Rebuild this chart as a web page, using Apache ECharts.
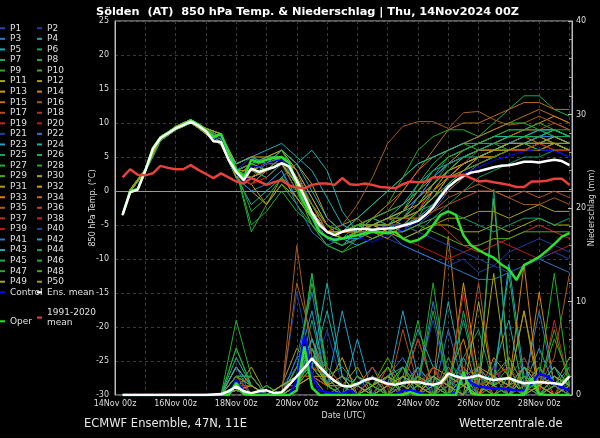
<!DOCTYPE html>
<html>
<head>
<meta charset="utf-8">
<title>Sölden 850 hPa Temp. & Niederschlag</title>
<script src="https://cdn.jsdelivr.net/npm/echarts@6.0.0/dist/echarts.min.js"></script>
<style>
  html, body { margin: 0; padding: 0; background: #000; }
  #chart { width: 600px; height: 438px; }
</style>
</head>
<body>
<div id="chart"></div>
<script>
// x positions in hours after 14Nov 00z
const mainHours = [6,12,18,24,30,36,42,48,54,60,66,72,78,84,90,96,102,108,114,120,
  126,132,138,144,150,156,162,168,174,180,186,192,198,204,210,216,222,228,234,240,
  246,252,258,264,270,276,282,288,294,300,306,312,318,324,330,336,342,348,354,360]
const memberHours = [6,12,24,36,48,60,72,84,96,108,120,132,144,156,168,180,192,204,216,228,
  240,252,264,276,288,300,312,324,336,348,360]
const dayLabels = ['14Nov 00z','16Nov 00z','18Nov 00z','20Nov 00z','22Nov 00z','24Nov 00z','26Nov 00z','28Nov 00z']

// 850 hPa temperature (°C), 6-hourly
const ensMeanTemp = [-3.5,-0.2,0.2,3.0,6.2,7.8,8.5,9.2,9.7,10.2,9.6,8.8,7.3,7.2,4.6,2.8,1.6,3.3,2.8,3.2,
  3.5,4.1,3.6,1.5,-0.8,-3.2,-5.0,-6.0,-6.5,-6.0,-5.7,-5.6,-5.6,-5.7,-5.6,-5.5,-5.4,-5.1,-4.8,-4.4,
  -3.5,-2.4,-0.8,0.6,1.5,2.2,2.7,2.9,3.2,3.5,3.7,3.8,4.0,4.3,4.3,4.2,4.4,4.6,4.4,3.8]
const operTemp = [-3.5,0.0,0.3,3.0,6.3,7.9,8.6,9.3,9.8,10.4,9.8,8.9,7.9,8.4,5.6,3.2,2.0,4.6,4.2,4.6,
  4.9,5.0,4.2,0.8,-1.8,-3.8,-6.0,-6.8,-7.2,-7.0,-6.7,-6.5,-6.2,-6.0,-6.1,-6.2,-6.0,-7.0,-7.5,-7.2,
  -6.5,-5.0,-3.5,-3.0,-3.5,-6.5,-8.0,-8.7,-9.3,-9.8,-10.8,-11.5,-13.1,-10.9,-10.3,-9.7,-8.8,-7.8,-6.7,-6.2]
const controlTemp = [-3.5,0.0,0.3,3.0,6.2,7.8,8.6,9.3,9.8,10.3,9.7,8.8,7.6,8.0,5.0,2.6,1.0,3.8,3.5,4.0,
  4.4,4.6,3.8,1.0,-1.5,-4.0,-6.2,-7.0,-7.4,-7.0,-6.5,-6.8,-7.2,-7.5,-7.0,-6.5,-6.0,-5.8,-5.2,-4.5,
  -3.8,-2.5,-1.0,0.5,1.5,2.5,3.0,3.5,4.0,4.5,4.8,5.2,5.5,5.8,6.0,6.2,6.0,5.8,5.5,5.0]
const climTemp = [2.0,3.2,2.4,2.3,2.6,3.7,3.4,3.2,3.2,3.8,3.1,2.5,1.9,2.6,2.0,1.4,1.1,1.9,1.4,0.9,
  1.3,1.6,0.8,0.5,0.4,0.9,1.1,1.1,0.9,1.9,1.0,0.9,1.1,0.9,0.6,0.5,0.4,1.0,1.4,1.3,
  1.4,2.0,2.1,2.1,2.2,2.4,1.9,1.4,1.5,1.3,1.1,0.9,0.6,0.6,1.4,1.4,1.5,1.8,1.8,0.9]

// precipitation (mm / 6 h)
const ensMeanPrecip = [0,0,0,0,0,0,0,0,0,0,0,0,0.05,0.1,0.4,0.9,0.4,0.2,0.4,0.5,
  0.2,0.3,1.1,2.0,2.9,3.9,3.0,2.2,1.5,1.0,0.9,1.2,1.6,1.8,1.5,1.2,1.1,1.3,1.4,1.4,
  1.2,1.1,1.3,2.3,2.0,1.8,1.9,2.1,1.8,1.6,1.7,1.8,1.5,1.25,1.3,1.4,1.3,1.25,1.1,2.0]
const operPrecip = [0,0,0,0,0,0,0,0,0,0,0,0,0,0,0,1.3,0.1,0,0,0,
  0,0,0,0.5,5.2,0.8,0,0,0,0,0,0,0,0,0,0,0,0,0.3,0,
  0,0,0,0,0,2.5,0.2,0,0,0,0,0,0,0,1.8,0.1,0,0,0,0]
const controlPrecip = [0,0,0,0,0,0,0,0,0,0,0,0,0,0,0,1.6,0.3,0,0.2,0,
  0,0,0,1.5,6.4,2.0,0.5,0.3,0.2,0.1,0.5,0,0,0,0,0,0,0.5,0.5,0.3,
  0,0,0,0,0.3,2.5,1.3,0.9,0.8,0.7,0.7,0.6,0.5,0.5,1.2,2.3,2.0,1.3,0.8,0.5]

// ensemble members P1..P50, temperature at memberHours
const memberTemp = [
  [-3.5,0,3,7.6,9.2,10.2,8.8,7.6,3,4,3,5,2,-3,-6,-7,-7,-6,-5,-5,-4,-2,1,3,4,5,6,7,6,6,5],
  [-3.4,0.1,3.1,7.9,9.4,10.4,9,8,2,1,3,4,0,-5,-7,-6,-5,-6,-7,-8,-9,-10,-11,-10,-12,-11,-9,-8,-7,-8,-9],
  [-3.6,-0.1,2.9,7.4,9,10,8.6,7.2,4,5,4,6,3,-1,-5,-6,-5,-4,-5,-6,-5,-3,0,2,4,5,6,6,7,8,7],
  [-3.5,0,3,7.8,9.5,10.5,9.2,8.4,3,2,1,3,-1,-4,-6,-7,-8,-7,-6,-4,-1,2,4,5,6,6,7,8,8,9,8],
  [-3.5,0.2,3.2,8,9.3,10.1,8.4,6.8,2,-2,0,2,4,6,3,-3,-6,-4,-3,-2,1,3,4,5,5,6,7,7,8,8,7],
  [-3.5,0,3,7.6,9.2,10.2,8.8,7.6,3,3,4,5,1,-4,-7,-8,-6,-5,-6,-7,-6,-4,-2,0,2,3,4,5,5,6,6],
  [-3.4,0.1,3.1,7.9,9.4,10.4,9,8,2,4,3,4,1,-3,-6,-7,-5,-4,-5,-3,1,4,6,7,8,10,12,14,14,12,11],
  [-3.6,-0.1,2.9,7.4,9,10,8.6,7.2,3,-6,-2,1,-2,-5,-8,-9,-7,-6,-5,-6,-4,0,3,5,6,7,6,7,8,7,7],
  [-3.5,0,3,7.8,9.5,10.5,9.2,8.4,2,3,5,6,2,-4,-6,-6,-5,-6,-5,-4,-2,1,4,5,6,6,7,7,6,7,6],
  [-3.5,0.2,3.2,8,9.3,10.1,8.4,6.8,3,4,3,4,1,-2,-5,-6,-4,-2,0,2,4,5,6,7,6,7,8,9,9,8,8],
  [-3.5,0,3,7.6,9.2,10.2,8.8,7.6,2,0,-2,1,-1,-4,-7,-8,-7,-5,-4,-5,-6,-5,-4,-4,-3,-3,-4,-3,-2,-3,-3],
  [-3.4,0.1,3.1,7.9,9.4,10.4,9,8,3,4,5,5,2,-2,-6,-7,-6,-7,-6,-5,-3,-1,1,3,4,5,6,6,7,8,7],
  [-3.6,-0.1,2.9,7.4,9,10,8.6,7.2,4,5,4,6,4,1,-4,-6,-5,-5,-4,-3,0,2,4,6,7,8,8,9,10,11,10],
  [-3.5,0,3,7.8,9.5,10.5,9.2,8.4,2,1,3,5,3,-3,-6,-5,-4,-6,-7,-5,-3,0,3,4,5,6,7,8,7,6,6],
  [-3.5,0.2,3.2,8,9.3,10.1,8.4,6.8,3,3,4,4,2,-3,-6,-6,-5,-4,-3,0,3,6,9,10,10,11,12,13,13,12,12],
  [-3.5,0,3,7.6,9.2,10.2,8.8,7.6,3,4,3,5,2,-3,-6,-5,-2,2,7,9.5,10.2,10.2,9.2,11.5,11.7,10.5,9.7,10,11,10,9],
  [-3.4,0.1,3.1,7.9,9.4,10.4,9,8,2,3,2,4,1,-4,-7,-7,-6,-6,-5,-4,-4,-3,-2,-1,0,0,-1,0,-1,0,-1],
  [-3.6,-0.1,2.9,7.4,9,10,8.6,7.2,3,2,4,5,2,-3,-5,-6,-5,-5,-6,-6,-3,1,3,4,5,6,6,7,7,7,6],
  [-3.5,0,3,7.8,9.5,10.5,9.2,8.4,3,4,3,5,1,-4,-6,-7,-6,-5,-4,-3,-1,1,3,5,6,6,7,7,8,7,7],
  [-3.5,0.2,3.2,8,9.3,10.1,8.4,6.8,2,1,2,4,0,-5,-7,-8,-7,-6,-6,-7,-8,-9,-10,-9,-8,-7,-8,-9,-10,-9,-8],
  [-3.5,0,3,7.6,9.2,10.2,8.8,7.6,3,5,4,6,3,-2,-6,-7,-6,-6,-5,-4,-2,0,2,4,5,6,6,7,7,8,7],
  [-3.4,0.1,3.1,7.9,9.4,10.4,9,8,2,0,1,3,-2,-6,-8,-7,-6,-5,-6,-8,-9,-10,-11,-12,-13,-13,-12,-11,-10,-11,-12],
  [-3.6,-0.1,2.9,7.4,9,10,8.6,7.2,3,4,5,5,1,-4,-6,-6,-5,-5,-5,-4,-3,-1,2,4,5,6,7,7,8,9,8],
  [-3.5,0,3,7.8,9.5,10.5,9.2,8.4,4,5,6,7,5,3,-1,-5,-6,-5,-4,-2,0,3,5,6,7,7,8,8,9,9,8],
  [-3.5,0.2,3.2,8,9.3,10.1,8.4,6.8,3,2,3,4,0,-4,-7,-8,-7,-6,-5,-3,-1,2,5,6,7,8,9,9,9,8,8],
  [-3.5,0,3,7.6,9.2,10.2,8.8,7.6,2,3,4,5,2,-3,-6,-7,-6,-5,-4,-4,-3,-2,0,2,4,5,6,6,7,7,6],
  [-3.4,0.1,3.1,7.9,9.4,10.4,9,8,3,-5,-3,0,-3,-5,-7,-8,-6,-4,-2,2,6,8,9,9,8,9,10,10,9,9,8],
  [-3.6,-0.1,2.9,7.4,9,10,8.6,7.2,2,4,3,5,1,-3,-6,-7,-6,-5,-4,-4,-3,-1,1,3,5,6,6,7,7,7,6],
  [-3.5,0,3,7.8,9.5,10.5,9.2,8.4,3,3,4,5,2,-2,-5,-6,-5,-6,-6,-5,-4,-2,1,3,4,5,6,7,6,7,7],
  [-3.5,0.2,3.2,8,9.3,10.1,8.4,6.8,2,1,-2,2,-1,-4,-6,-6,-6,-5,-6,-7,-6,-5,-5,-6,-6,-5,-6,-5,-4,-5,-5],
  [-3.5,0,3,7.6,9.2,10.2,8.8,7.6,3,4,3,4,1,-4,-6,-7,-6,-5,-4,-3,-1,1,3,5,6,6,7,8,8,7,7],
  [-3.4,0.1,3.1,7.9,9.4,10.4,9,8,4,5,5,6,3,-1,-5,-7,-6,-5,-5,-4,-2,1,3,4,5,5,6,6,7,7,6],
  [-3.6,-0.1,2.9,7.4,9,10,8.6,7.2,2,2,3,4,1,-3,-6,-6,-5,-5,-6,-5,-3,-1,2,4,5,5,6,6,6,7,6],
  [-3.5,0,3,7.8,9.5,10.5,9.2,8.4,3,3,4,5,2,-2,-6,-7,-6,-4,-2,0,3,5,6,7,8,9,10,11,12,11,10],
  [-3.5,0.2,3.2,8,9.3,10.1,8.4,6.8,2,4,3,5,1,-4,-7,-7,-6,-5,-4,-4,-4,-3,-1,0,1,0,-1,-2,-2,-1,-2],
  [-3.5,0,3,7.6,9.2,10.2,8.8,7.6,3,2,3,4,0,-4,-6,-6,-6,-6,-5,-4,-2,0,2,4,6,7,8,9,9,10,9],
  [-3.4,0.1,3.1,7.9,9.4,10.4,9,8,2,3,4,5,2,-3,-6,-7,-6,-5,-5,-5,-4,-2,0,2,4,5,6,7,7,7,6],
  [-3.6,-0.1,2.9,7.4,9,10,8.6,7.2,3,4,4,5,2,-2,-5,-6,-6,-6,-6,-6,-5,-4,-6,-8,-9,-8,-7,-6,-5,-6,-7],
  [-3.5,0,3,7.8,9.5,10.5,9.2,8.4,2,1,2,4,1,-4,-6,-7,-6,-5,-5,-4,-3,-1,2,3,4,5,6,6,7,6,6],
  [-3.5,0.2,3.2,8,9.3,10.1,8.4,6.8,3,3,4,5,1,-4,-7,-7,-6,-6,-5,-5,-6,-7,-8,-9,-10,-11,-12,-11,-10,-9,-10],
  [-3.5,0,3,7.6,9.2,10.2,8.8,7.6,3,4,3,5,2,-3,-6,-7,-6,-5,-4,-3,-1,2,4,5,6,7,7,8,8,8,7],
  [-3.4,0.1,3.1,7.9,9.4,10.4,9,8,2,2,3,4,1,-4,-6,-7,-7,-6,-6,-5,-4,-2,1,3,5,6,7,7,7,8,7],
  [-3.6,-0.1,2.9,7.4,9,10,8.6,7.2,4,5,4,6,4,0,-4,-6,-4,-2,0,2,4,5,6,7,7,8,8,8,9,9,8],
  [-3.5,0,3,7.8,9.5,10.5,9.2,8.4,3,3,2,4,1,-3,-6,-7,-6,-5,-5,-6,-5,-4,-3,-4,-5,-6,-5,-4,-4,-5,-4],
  [-3.5,0.2,3.2,8,9.3,10.1,8.4,6.8,2,4,3,5,2,-3,-6,-6,-5,-5,-5,-4,-2,1,3,5,6,7,8,8,8,9,8],
  [-3.5,0,3,7.6,9.2,10.2,8.8,7.6,3,-3,-1,2,0,-5,-8,-9,-8,-7,-6,-5,-3,-1,1,3,4,5,6,7,7,7,6],
  [-3.4,0.1,3.1,7.9,9.4,10.4,9,8,2,3,4,5,2,-2,-5,-6,-5,-4,-3,-2,0,3,5,6,7,8,9,9,10,9,9],
  [-3.6,-0.1,2.9,7.4,9,10,8.6,7.2,3,4,3,4,1,-4,-6,-7,-6,-6,-6,-6,-5,-6,-7,-8,-8,-7,-7,-6,-6,-6,-6],
  [-3.5,0,3,7.8,9.5,10.5,9.2,8.4,2,2,3,4,1,-3,-6,-6,-6,-5,-4,-3,-2,0,2,4,5,6,7,7,7,7,6],
  [-3.5,0.2,3.2,8,9.3,10.1,8.4,6.8,3,3,4,5,2,-3,-6,-7,-6,-5,-5,-4,-3,-1,2,3,5,6,6,7,7,8,7]
]

// ensemble members P1..P50, precipitation at memberHours
const memberPrecip = [
  [0,0,0,0,0,0,0,0,1,1,0,0,2,3,1,0,1,2,0,1,3,0,1,2,0,1,4,1,0,2,1],
  [0,0,0,0,0,0,0,0,0.5,0,0,1,3,2,7,1,0,3,1,0,2,8,1,0,1,3,0,2,1,0,1],
  [0,0,0,0,0,0,0,0,2,2,0,0,4,11,2,1,0,1,2,4,1,0,7,1,2,0,1,3,0,1,2],
  [0,0,0,0,0,0,0,0,0.5,0,1,0,1,5,1,9,2,0,1,9,2,1,0,4,1,2,0,1,5,1,0],
  [0,0,0,0,0,0,0,0,4,1,0,0,1,4,3,1,0,2,1,0,3,1,10,2,0,3,8,0,2,1,3],
  [0,0,0,0,0,0,0,0,1,0,0,1,2,3,1,0,1,0,3,1,0,2,1,4,7,1,0,2,1,3,0],
  [0,0,0,0,0,0,0,0,0.5,0,0,0,2,6,2,3,1,2,0,1,2,0,4,1,0,2,13,1,0,2,1],
  [0,0,0,0,0,0,0,0,8,2,0,0,2,12,3,1,0,2,1,3,0,1,2,0,3,1,2,0,1,6,2],
  [0,0,0,0,0,0,0,0,1,1,0,0,3,4,1,0,2,1,0,2,1,9,1,3,0,1,2,4,1,0,1],
  [0,0,0,0,0,0,0,0,2,0,1,0,1,3,1,2,0,1,4,1,0,2,1,0,2,1,0,3,2,1,0],
  [0,0,0,0,0,0,0,0,0.5,3,0,0,2,2,0,1,3,0,2,1,6,1,0,2,1,21,3,0,2,1,0],
  [0,0,0,0,0,0,0,0,3,1,0,1,5,3,1,0,1,2,0,1,2,0,3,1,0,2,1,9,0,1,4],
  [0,0,0,0,0,0,0,0,1,0,0,0,1,2,1,4,0,1,2,0,1,3,0,12,2,1,0,2,1,3,1],
  [0,0,0,0,0,0,0,0,0.5,1,0,0,3,4,2,0,1,0,1,2,0,1,2,1,0,4,2,0,11,1,0],
  [0,0,0,0,0,0,0,0,2,2,0,0,2,5,1,1,0,2,1,0,3,1,17,2,1,0,2,1,3,0,1],
  [0,0,0,0,0,0,0,0,1,0,0,0,16,4,2,0,1,3,0,1,2,0,1,2,3,1,0,2,1,4,13],
  [0,0,0,0,0,0,0,0,1,1,0,1,1,6,1,0,2,1,0,7,1,2,0,1,2,0,1,3,1,0,2],
  [0,0,0,0,0,0,0,0,0.5,0,0,0,1,3,2,1,0,1,2,0,1,0,2,1,0,2,3,1,0,1,2],
  [0,0,0,0,0,0,0,0,2,1,0,0,2,4,1,0,1,0,3,1,6,1,0,2,1,3,0,1,2,0,1],
  [0,0,0,0,0,0,0,0,1,0,0,0,2,2,1,2,0,1,0,2,1,3,1,0,2,1,0,4,1,2,0],
  [0,0,0,0,0,0,0,0,0.5,2,0,0,11,3,1,0,2,1,0,1,2,0,1,3,1,0,2,1,0,2,1],
  [0,0,0,0,0,0,0,0,3,0,1,0,1,5,2,1,0,2,1,0,1,10,2,0,1,2,1,0,3,1,2],
  [0,0,0,0,0,0,0,0,1,1,0,0,3,9,1,0,6,0,2,3,1,0,1,2,0,1,14,2,1,0,1],
  [0,0,0,0,0,0,0,0,2,0,0,1,2,3,9,2,0,1,0,2,7,3,0,1,2,1,0,2,1,3,1],
  [0,0,0,0,0,0,0,0,1,2,0,0,1,4,1,0,2,1,0,1,3,1,2,0,1,22,2,1,0,1,2],
  [0,0,0,0,0,0,0,0,0.5,0,0,0,2,6,2,1,0,2,1,0,1,2,0,9,1,2,0,1,3,1,0],
  [0,0,0,0,0,0,0,0,5,1,0,0,1,3,1,0,1,0,2,1,8,0,1,2,1,0,2,1,0,2,1],
  [0,0,0,0,0,0,0,0,1,0,1,0,2,13,2,1,0,1,0,2,1,0,3,1,2,0,1,2,1,0,3],
  [0,0,0,0,0,0,0,0,2,1,0,0,1,4,1,2,1,0,1,3,0,2,1,0,1,2,4,1,0,2,1],
  [0,0,0,0,0,0,0,0,0.5,0,0,0,3,3,2,0,1,2,0,1,2,1,0,2,1,13,1,0,2,1,0],
  [0,0,0,0,0,0,0,0,1,2,0,1,2,5,1,0,2,1,3,0,1,2,1,0,2,1,0,3,1,2,1],
  [0,0,0,0,0,0,0,0,3,1,0,0,1,2,1,1,0,2,1,0,2,1,0,1,3,2,1,0,2,1,2],
  [0,0,0,0,0,0,0,0,1,0,0,0,3,4,1,0,1,0,2,1,0,3,2,6,0,2,1,14,0,1,2],
  [0,0,0,0,0,0,0,0,0.5,1,0,0,2,3,2,1,0,1,0,2,1,0,2,1,3,0,2,1,1,0,1],
  [0,0,0,0,0,0,0,0,2,0,0,0,12,6,2,1,0,2,1,0,1,2,0,3,1,2,0,1,2,1,0],
  [0,0,0,0,0,0,0,0,1,2,0,0,2,3,1,0,1,3,0,2,1,0,1,2,12,1,0,2,1,0,2],
  [0,0,0,0,0,0,0,0,0.5,0,0,1,1,5,3,1,0,1,2,0,1,2,1,0,1,2,3,0,1,2,1],
  [0,0,0,0,0,0,0,0,1,1,0,0,2,2,1,0,2,1,0,1,2,0,1,11,0,1,2,1,0,8,1],
  [0,0,0,0,0,0,0,0,2,0,0,0,1,3,2,1,0,2,1,0,1,3,0,1,2,0,1,2,1,0,2],
  [0,0,0,0,0,0,0,0,0.5,1,0,0,3,4,1,2,1,0,2,1,0,1,2,0,1,3,1,0,2,1,1],
  [0,0,0,0,0,0,0,0,1,0,0,0,4,5,2,0,1,2,0,1,3,1,0,2,1,0,2,1,9,1,0],
  [0,0,0,0,0,0,0,0,3,1,0,0,1,6,1,1,0,1,2,0,1,2,1,0,3,1,0,2,1,2,1],
  [0,0,0,0,0,0,0,0,1,0,0,1,2,3,12,2,1,0,1,2,0,1,2,1,0,2,1,3,0,1,2],
  [0,0,0,0,0,0,0,0,2,2,0,0,1,8,1,0,1,2,0,1,2,0,1,8,1,0,2,1,0,2,1],
  [0,0,0,0,0,0,0,0,0.5,0,0,0,2,13,2,1,0,1,2,0,1,2,0,1,2,1,0,2,1,0,1],
  [0,0,0,0,0,0,0,0,5,1,0,0,1,4,1,0,2,1,0,3,1,0,2,1,0,2,1,0,2,13,1],
  [0,0,0,0,0,0,0,0,1,0,0,0,3,5,2,1,0,1,0,2,1,12,1,0,2,1,3,0,1,7,1],
  [0,0,0,0,0,0,0,0,2,1,0,0,1,3,1,0,2,1,3,0,2,1,0,2,1,0,1,2,0,1,2],
  [0,0,0,0,0,0,0,0,1,0,0,1,2,4,1,2,0,1,2,1,0,2,1,0,10,1,2,0,1,2,1],
  [0,0,0,0,0,0,0,0,0.5,1,0,0,1,2,2,1,1,0,1,2,1,0,2,1,0,2,1,9,1,0,1]
]

// member colours: P1 own shade, then a 19-step blue→green→yellow→red cycle from P2
const p1Color = '#2848b8'
const cycleColors = ['#1a3fa8','#2a78c8','#22a0c8','#1ab0b0','#12a070','#1ab050','#22b030','#2aa820','#40b010',
  '#a8a810','#b09a10','#d0a000','#d88400','#c07018','#a85c18','#b84e20','#b03822','#c82828','#c01818']

const font = 'DejaVu Sans'
const pairs = (hours, vals) => hours.map((h, i) => [h, vals[i]])

function lineSeries (name, yAxisIndex, data, color, width, z) {
  return {
    name: name,
    type: 'line',
    yAxisIndex: yAxisIndex,
    data: data,
    symbol: 'none',
    showSymbol: false,
    silent: true,
    z: z,
    color: color,
    itemStyle: { color: color },
    lineStyle: { width: width, color: color }
  }
}

const series = []
const memberNames = []
memberTemp.forEach((temps, i) => {
  const name = 'P' + (i + 1)
  const color = i === 0 ? p1Color : cycleColors[(i - 1) % cycleColors.length]
  memberNames.push(name)
  series.push(lineSeries(name, 0, pairs(memberHours, temps), color, 1, 2))
  series.push(lineSeries(name, 1, pairs(memberHours, memberPrecip[i]), color, 1, 2))
})
// control temperature sits among the members; its precipitation is drawn bold
series.push(lineSeries('Control', 0, pairs(mainHours, controlTemp), '#0000ff', 1, 2))
series.push(lineSeries('Control', 1, pairs(mainHours, controlPrecip), '#0000ff', 2.5, 3))
series.push(lineSeries('Oper', 0, pairs(mainHours, operTemp), '#2ee02e', 2.5, 4))
series.push(lineSeries('Oper', 1, pairs(mainHours, operPrecip), '#2ee02e', 2.5, 4))
series.push(lineSeries('Ens. mean', 0, pairs(mainHours, ensMeanTemp), '#ffffff', 2.5, 5))
series.push(lineSeries('Ens. mean', 1, pairs(mainHours, ensMeanPrecip), '#ffffff', 2.5, 5))
series.push(lineSeries('1991-2020 mean', 0, pairs(mainHours, climTemp), '#e8413c', 2.5, 6))

const legendBase = {
  orient: 'vertical',
  icon: 'rect',
  itemWidth: 5,
  itemHeight: 2,
  itemGap: 0,
  padding: 0,
  selectedMode: false,
  textStyle: { color: '#e0e0e0', fontSize: 9, fontFamily: font, lineHeight: 10.56 }
}

const options = {
  backgroundColor: '#000',
  animation: false,
  title: [
    {
      text: 'Sölden  (AT)  850 hPa Temp. & Niederschlag | Thu, 14Nov2024 00Z',
      left: 91,
      top: 2,
      textStyle: { color: '#fff', fontSize: 11.3, fontWeight: 'bold', fontFamily: font }
    },
    {
      text: 'ECMWF Ensemble, 47N, 11E',
      left: 79,
      top: 413,
      textStyle: { color: '#e8e8e8', fontSize: 11.5, fontWeight: 'normal', fontFamily: font }
    },
    {
      text: 'Wetterzentrale.de',
      left: 454,
      top: 413,
      textStyle: { color: '#e8e8e8', fontSize: 11.5, fontWeight: 'normal', fontFamily: font }
    }
  ],
  legend: [
    Object.assign({}, legendBase, {
      left: 0, top: 23,
      data: memberNames.filter((n, i) => i % 2 === 0).concat(['Control'])
    }),
    Object.assign({}, legendBase, {
      left: 37, top: 23,
      data: memberNames.filter((n, i) => i % 2 === 1).concat(['Ens. mean'])
    }),
    Object.assign({}, legendBase, {
      left: 37, top: 307,
      data: ['1991-2020 mean'],
      formatter: () => '1991-2020\nmean'
    }),
    Object.assign({}, legendBase, {
      left: 0, top: 316,
      data: ['Oper']
    })
  ],
  grid: {
    left: 115,
    right: 28,
    top: 21,
    bottom: 43,
    outerBoundsMode: 'none',
    show: true,
    borderColor: '#bbb',
    borderWidth: 1
  },
  xAxis: {
    type: 'value',
    min: 0,
    max: 362,
    interval: 24,
    name: 'Date (UTC)',
    nameLocation: 'middle',
    nameGap: 17,
    nameMoveOverlap: false,
    nameTextStyle: { color: '#ddd', fontSize: 8, fontFamily: font },
    axisLine: { lineStyle: { color: '#999' } },
    axisTick: { show: false },
    axisLabel: {
      color: '#ddd',
      fontSize: 8,
      fontFamily: font,
      margin: 5,
      showMaxLabel: false,
      formatter: v => (v % 48 === 0 ? dayLabels[v / 48] : '')
    },
    splitLine: { lineStyle: { color: '#3c3c3c', type: [3, 3] } }
  },
  yAxis: [
    {
      type: 'value',
      min: -30,
      max: 25,
      interval: 5,
      name: '850 hPa Temp. (°C)',
      nameLocation: 'middle',
      nameGap: 18,
      nameMoveOverlap: false,
      nameTextStyle: { color: '#ddd', fontSize: 8, fontFamily: font },
      axisLine: { show: true, lineStyle: { color: '#bbb' } },
      axisTick: { show: false },
      axisLabel: { color: '#ddd', fontSize: 8, fontFamily: font, margin: 6 },
      splitLine: { lineStyle: { color: '#3c3c3c', type: [3, 3] } }
    },
    {
      type: 'value',
      min: 0,
      max: 40,
      interval: 10,
      name: 'Niederschlag (mm)',
      nameLocation: 'middle',
      nameGap: 16,
      nameMoveOverlap: false,
      nameTextStyle: { color: '#ddd', fontSize: 8, fontFamily: font },
      axisLine: { show: true, lineStyle: { color: '#bbb' } },
      axisTick: { show: true, inside: true, length: 4, lineStyle: { color: '#bbb' } },
      minorTick: { show: true, splitNumber: 5, length: 3, lineStyle: { color: '#999' } },
      axisLabel: { color: '#ddd', fontSize: 8, fontFamily: font, margin: 4 },
      splitLine: { show: false }
    }
  ],
  series: series
}

const myChart = echarts.init(document.getElementById('chart'))
myChart.setOption(options)
</script>
</body>
</html>
